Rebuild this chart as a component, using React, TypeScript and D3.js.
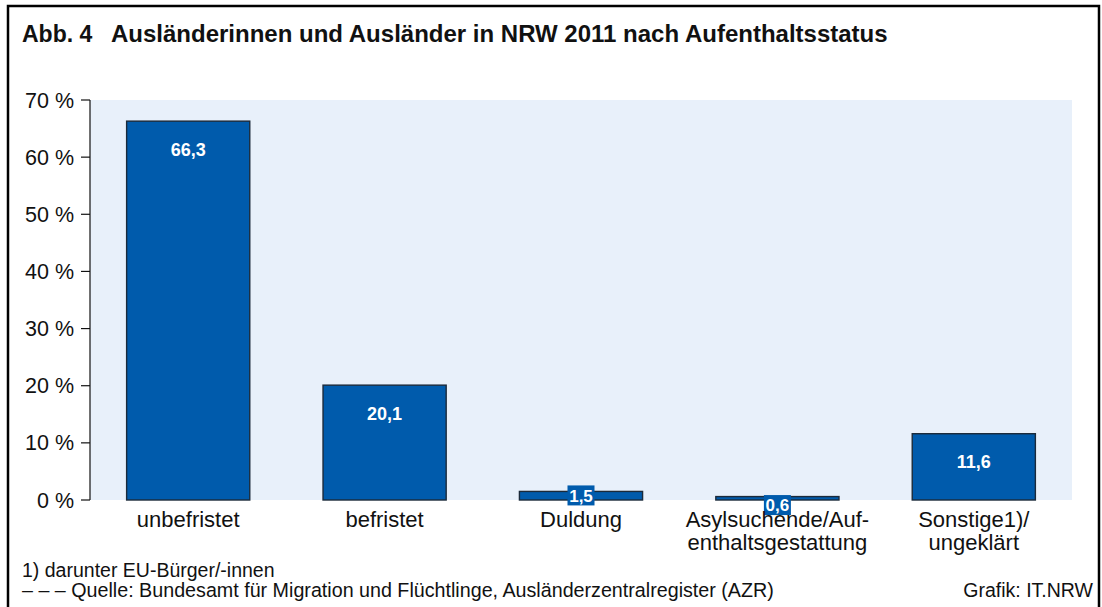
import React from "react";
import { scaleBand, scaleLinear } from "d3";

const categories = [
  ["unbefristet"],
  ["befristet"],
  ["Duldung"],
  ["Asylsuchende/Auf-", "enthaltsgestattung"],
  ["Sonstige1)/", "ungeklärt"],
];
const values = [66.3, 20.1, 1.5, 0.6, 11.6];
const yTicks = [0, 10, 20, 30, 40, 50, 60, 70];

const title = "Ausländerinnen und Ausländer in NRW 2011 nach Aufenthaltsstatus";
const footnote = "1) darunter EU-Bürger/-innen";
const source = "– – – Quelle: Bundesamt für Migration und Flüchtlinge, Ausländerzentralregister (AZR)";
const credit = "Grafik: IT.NRW";

const W = 1102;
const H = 607;
const font = "'Liberation Sans', Arial, sans-serif";

const App = () => {
  const margin = { top: 100, right: 30, bottom: 107, left: 90 };
  const innerW = W - margin.left - margin.right;
  const innerH = H - margin.top - margin.bottom;

  const x = scaleBand<number>()
    .domain(values.map((_, i) => i))
    .range([0, innerW])
    .paddingInner(0.373)
    .paddingOuter(0.1865);

  const y = scaleLinear().domain([0, 70]).range([innerH, 0]);

  const fmt = (v: number) => v.toFixed(1).replace(".", ",");

  return (
    <div style={{ position: "absolute", left: 0, top: 0 }}>
      <svg width={W} height={H} style={{ display: "block", fontFamily: font }}>
        <rect width={W} height={H} fill="#fff" />
        <path d={`M8,${H + 5} V6 H1099 V${H + 5}`} fill="none" stroke="#000" strokeWidth={2.5} />
        <text x={22} y={42} fontSize={23} fontWeight="bold" fill="#111">
          Abb. 4
        </text>
        <text x={111} y={42} fontSize={24} fontWeight="bold" fill="#111">
          {title}
        </text>

        <g transform={`translate(${margin.left},${margin.top})`}>
          <rect width={innerW} height={innerH} fill="#E8F0FA" />

          {yTicks.map((t) => (
            <g key={t} transform={`translate(0,${y(t)})`}>
              <line x1={-9} x2={0} stroke="#111" strokeWidth={1.2} />
              <text x={-16} dy="0.35em" textAnchor="end" fontSize={21.5} fill="#111">
                {t} %
              </text>
            </g>
          ))}
          <line x1={0} x2={0} y1={y(70)} y2={y(0)} stroke="#111" strokeWidth={1.2} />

          {values.map((v, i) => {
            const bx = x(i)!;
            const bw = x.bandwidth();
            const cx = bx + bw / 2;
            const small = y(0) - y(v) < 30;
            const ly = small ? y(v) + 4 + (1.5 - v) * 5 : y(v) + 28;
            return (
              <g key={i}>
                <rect
                  x={bx}
                  y={y(v)}
                  width={bw}
                  height={y(0) - y(v)}
                  fill="#005BAC"
                  stroke="#1B2A3A"
                  strokeWidth={1.4}
                />
                {small && (
                  <rect x={cx - 13.5} y={ly - 10} width={27} height={20} fill="#005BAC" />
                )}
                <text
                  x={cx}
                  y={ly}
                  dy="0.36em"
                  textAnchor="middle"
                  fontSize={small ? 17 : 18}
                  fontWeight="bold"
                  fill="#fff"
                >
                  {fmt(v)}
                </text>
                {categories[i].map((line, j) => (
                  <text
                    key={j}
                    x={cx}
                    y={innerH + 27 + j * 23}
                    textAnchor="middle"
                    fontSize={22}
                    fill="#111"
                  >
                    {line}
                  </text>
                ))}
              </g>
            );
          })}
        </g>

        <text x={22} y={577} fontSize={19.5} fill="#111">
          {footnote}
        </text>
        <text x={22} y={597} fontSize={19.7} fill="#111">
          {source}
        </text>
        <text x={1093} y={597} textAnchor="end" fontSize={19.5} fill="#111">
          {credit}
        </text>
      </svg>
    </div>
  );
};

export default App;
